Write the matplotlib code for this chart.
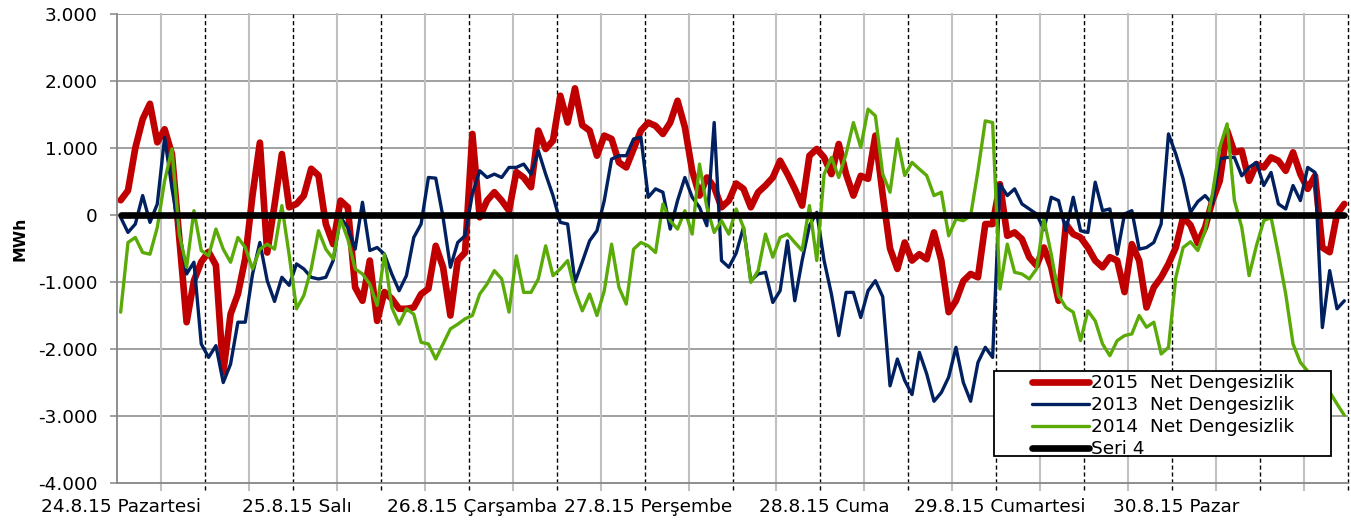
import matplotlib
matplotlib.use("Agg")
import matplotlib.pyplot as plt
import numpy as np
from matplotlib.patches import Rectangle
from matplotlib.ticker import FuncFormatter

plt.rcParams.update({"font.family": ["DejaVu Sans"], "font.size": 13.3})

# ---- data (hourly net imbalance, MWh) ----
day_labels = ["24.8.15 Pazartesi", "25.8.15 Salı", "26.8.15 Çarşamba", "27.8.15 Perşembe",
              "28.8.15 Cuma", "29.8.15 Cumartesi", "30.8.15 Pazar"]

net_2015 = [
    220, 365, 1000, 1430, 1660, 1085, 1280, 910, -350, -1600, -980, -700, -550, -750, -2350, -1480,
    -1180, -650, 300, 1080, -560, 150, 910, 115, 165, 290, 690, 590, -135, -435, 215, 115,
    -1080, -1280, -680, -1580, -1150, -1250, -1400, -1400, -1380, -1180, -1100, -460, -780, -1500, -680, -560,
    1210, -35, 215, 340, 215, 65, 640, 560, 415, 1260, 985, 1110, 1780, 1380, 1890, 1340,
    1260, 885, 1185, 1135, 785, 710, 985, 1260, 1380, 1330, 1210, 1380, 1705, 1310, 660, 290,
    560, 415, 115, 215, 470, 390, 115, 340, 440, 560, 810, 610, 390, 140, 885, 985,
    860, 610, 1060, 610, 290, 585, 540, 1185, 300, -500, -805, -410, -680, -585, -660, -260,
    -680, -1450, -1280, -985, -880, -930, -135, -135, 460, -310, -260, -360, -630, -755, -485, -780,
    -1280, -135, -285, -335, -485, -680, -780, -630, -680, -1150, -435, -680, -1380, -1080, -930, -730,
    -485, -35, -150, -420, -185, 215, 510, 1260, 935, 960, 510, 760, 710, 860, 810, 660,
    935, 610, 390, 585, -485, -555, 15, 165,
]

net_2013 = [
    -35, -260, -135, 290, -110, 165, 1160, 400, -250, -880, -705, -1925, -2125, -1950, -2500, -2225,
    -1600, -1600, -880, -410, -980, -1290, -930, -1050, -730, -805, -930, -955, -930, -680, -35, -185,
    -510, 190, -530, -485, -585, -880, -1130, -905, -335, -135, 560, 550, -35, -780, -410, -310,
    315, 660, 560, 610, 560, 710, 710, 760, 610, 960, 610, 290, -110, -135, -1000, -700,
    -385, -235, 215, 835, 885, 885, 1135, 1160, 265, 390, 340, -210, 215, 560, 265, 115,
    -160, 1380, -680, -780, -570, -185, -980, -880, -855, -1305, -1130, -385, -1280, -680, -160, 40,
    -680, -1180, -1800, -1155, -1155, -1530, -1130, -980, -1220, -2550, -2150, -2470, -2680, -2050, -2370, -2780,
    -2650, -2420, -1975, -2500, -2780, -2200, -1975, -2125, 460, 290, 390, 165, 90, 15, -220, 265,
    215, -235, 265, -235, -260, 490, 65, 90, -585, 15, 65, -510, -485, -410, -135, 1210,
    910, 540, 40, 200, 290, 165, 835, 860, 860, 585, 710, 785, 440, 635, 165, 90,
    440, 215, 710, 635, -1680, -830, -1400, -1280,
]

net_2014 = [
    -1450, -410, -335, -560, -585, -185, 510, 985, -285, -780, 65, -530, -610, -210, -510, -705,
    -335, -485, -805, -510, -435, -510, 140, -600, -1400, -1200, -805, -235, -510, -655, -60, -360,
    -805, -880, -1030, -1350, -585, -1380, -1630, -1400, -1480, -1900, -1925, -2150, -1925, -1700, -1630, -1550,
    -1500, -1180, -1030, -830, -955, -1450, -610, -1155, -1155, -955, -460, -905, -805, -680, -1130, -1430,
    -1180, -1500, -1130, -435, -1080, -1330, -510, -410, -460, -560, 165, -85, -210, 65, -285, 760,
    115, -260, -85, -285, 90, -185, -1005, -830, -285, -630, -335, -285, -410, -530, 140, -680,
    610, 860, 560, 910, 1380, 1010, 1580, 1480, 610, 340, 1135, 590, 785, 685, 590, 290,
    340, -310, -60, -85, -10, 660, 1405, 1380, -1105, -435, -855, -880, -955, -805, -60, -585,
    -1205, -1380, -1450, -1875, -1430, -1580, -1925, -2100, -1875, -1800, -1775, -1500, -1675, -1600, -2075, -1975,
    -930, -485, -400, -530, -235, 315, 1010, 1360, 215, -185, -905, -460, -85, -35, -585, -1180,
    -1925, -2200, -2330, -2440, -2540, -2640, -2820, -2990,
]

seri_4 = [0] * len(net_2015)

# ---- style ----
RED, NAVY, GREEN, BLACK = "#c00000", "#002060", "#5aaa08", "#000000"
GRID_H, GRID_V, AXIS = "#868686", "#c0c0c0", "#868686"

W, H = 1351, 526
fig = plt.figure(figsize=(W / 100, H / 100), dpi=100)
ax = fig.add_axes([117 / W, 43 / H, 1231 / W, 469 / H])

hours = np.arange(len(net_2015))
n = len(hours)

# gridlines: every 6 hours, dashed black every 12 hours
for k in range(1, n // 6 + 1):
    xv = k * 6 - 0.5
    if k % 2 == 0:
        ax.axvline(xv, ymin=-0.014, ymax=1, color="black", lw=1.0, ls=(0, (3, 2)),
                   clip_on=False, zorder=1)
    else:
        ax.axvline(xv, ymin=-0.014, ymax=1, color=GRID_V, lw=1.5, clip_on=False, zorder=0.9)
for yv in range(-3000, 3001, 1000):
    ax.axhline(yv, color=GRID_H, lw=1.1, zorder=0.8)

kw = dict(solid_joinstyle="round", solid_capstyle="round")
l15, = ax.plot(hours, net_2015, color=RED, lw=4.8, zorder=2, label="2015  Net Dengesizlik", **kw)
l13, = ax.plot(hours, net_2013, color=NAVY, lw=2.4, zorder=3, label="2013  Net Dengesizlik", **kw)
l14, = ax.plot(hours, net_2014, color=GREEN, lw=2.4, zorder=4, label="2014  Net Dengesizlik", **kw)
l4, = ax.plot(hours, seri_4, color=BLACK, lw=4.8, zorder=5, label="Seri 4", **kw)

ax.set_xlim(-0.5, n - 0.5)
ax.set_ylim(-4000, 3000)
ax.set_yticks(range(-4000, 3001, 1000))
ax.yaxis.set_major_formatter(FuncFormatter(lambda v, p: f"{int(v):,}".replace(",", ".")))
ax.set_xticks(np.arange(0, n, 24))
ax.set_xticklabels(day_labels)
ax.tick_params(axis="x", length=0, pad=11)
ax.tick_params(axis="y", length=5, width=1.1, color=AXIS, pad=9)

for s in ("top", "right"):
    ax.spines[s].set_visible(False)
for s in ("left", "bottom"):
    ax.spines[s].set_color(AXIS)
    ax.spines[s].set_linewidth(1.3)
    ax.spines[s].set_zorder(6)

ax.set_ylabel("MWh", fontsize=11.3, fontweight="bold")
ax.yaxis.set_label_coords(-0.0731, 0.52)

# legend (Excel-style box with centred content)
x0, y0 = (994 - 117) / 1231, (483 - 456) / 469
ax.add_patch(Rectangle((x0, y0), (1331 - 994) / 1231, 85 / 469, transform=ax.transAxes,
                       fc="white", ec="black", lw=1.3, zorder=9, clip_on=False))
leg = ax.legend(handles=[l15, l13, l14, l4], loc="upper left", frameon=False,
                bbox_to_anchor=((1032 - 117) / 1231, (483 - 374) / 469),
                borderaxespad=0, borderpad=0, labelspacing=0.22, handlelength=3.1,
                handletextpad=0.1, fontsize=13.3)
leg.set_zorder(10)

fig.savefig("out.png", dpi=100, facecolor="white")
